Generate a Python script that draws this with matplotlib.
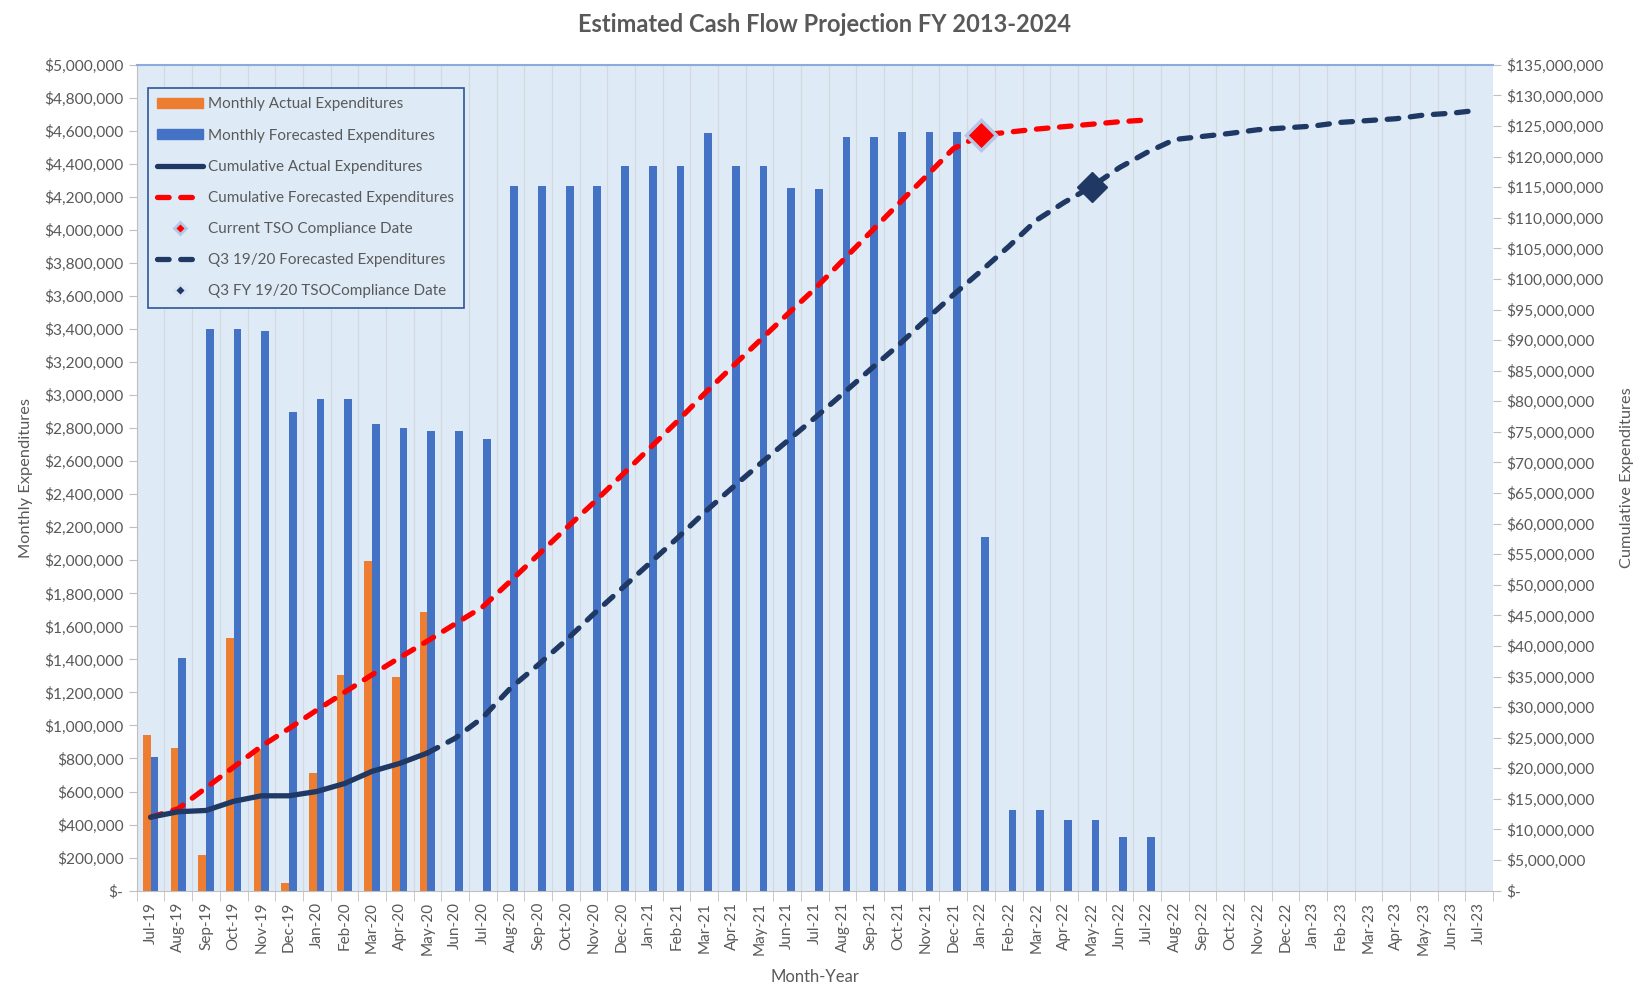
import matplotlib
matplotlib.use("Agg")
import matplotlib.pyplot as plt
from matplotlib.lines import Line2D
from matplotlib.patches import Patch
from matplotlib.ticker import FuncFormatter, MultipleLocator
import numpy as np

plt.rcParams['font.family'] = ['Lato', 'DejaVu Sans']

months = ['Jul-19', 'Aug-19', 'Sep-19', 'Oct-19', 'Nov-19', 'Dec-19', 'Jan-20', 'Feb-20',
          'Mar-20', 'Apr-20', 'May-20', 'Jun-20', 'Jul-20', 'Aug-20', 'Sep-20', 'Oct-20',
          'Nov-20', 'Dec-20', 'Jan-21', 'Feb-21', 'Mar-21', 'Apr-21', 'May-21', 'Jun-21',
          'Jul-21', 'Aug-21', 'Sep-21', 'Oct-21', 'Nov-21', 'Dec-21', 'Jan-22', 'Feb-22',
          'Mar-22', 'Apr-22', 'May-22', 'Jun-22', 'Jul-22', 'Aug-22', 'Sep-22', 'Oct-22',
          'Nov-22', 'Dec-22', 'Jan-23', 'Feb-23', 'Mar-23', 'Apr-23', 'May-23', 'Jun-23',
          'Jul-23']

# monthly values in $ (left axis)
monthly_actual = [940000, 865000, 215000, 1530000, 860000, 45000, 710000, 1305000,
                  1995000, 1295000, 1690000]
monthly_forecast = [810000, 1410000, 3400000, 3400000, 3390000, 2900000, 2975000, 2975000,
                    2825000, 2800000, 2785000, 2785000, 2735000, 4265000, 4265000, 4265000,
                    4265000, 4390000, 4385000, 4385000, 4585000, 4385000, 4385000, 4255000,
                    4250000, 4565000, 4565000, 4595000, 4595000, 4595000, 2140000, 490000,
                    490000, 430000, 430000, 325000, 325000]

# cumulative values in $M (right axis)
cum_actual = [12.0, 12.9, 13.1, 14.6, 15.5, 15.5, 16.2, 17.5, 19.5, 20.8, 22.5]
cum_forecast = [12.0, 13.4, 16.8, 20.2, 23.6, 26.5, 29.5, 32.4, 35.3, 38.1, 40.8, 43.6,
                46.4, 50.6, 54.9, 59.2, 63.4, 67.8, 72.2, 76.6, 81.2, 85.6, 89.9, 94.2,
                98.4, 103.0, 107.6, 112.2, 116.7, 121.3, 123.5, 124.0, 124.5, 124.9, 125.3,
                125.7, 126.0]
q3_start = 10  # May-20
q3_forecast = [22.5, 24.9, 28.3, 33.1, 36.9, 40.9, 45.2, 49.3, 53.4, 57.5, 61.8, 65.8,
               69.7, 73.5, 77.3, 81.2, 85.2, 89.1, 93.3, 97.4, 101.3, 105.3, 109.6, 112.5,
               115.1, 118.2, 120.7, 122.8, 123.3, 123.8, 124.4, 124.7, 125.0, 125.6, 125.9,
               126.2, 126.8, 127.1, 127.6]
tso_current = ('Jan-22', 123.5)
tso_q3 = ('May-22', 115.1)

orange = '#ED7D31'
blue = '#4472C4'
navy = '#1F3864'
red = '#FF0000'
bg = '#DEEBF7'
txt = '#595959'

fig = plt.figure(figsize=(16.48, 9.83), dpi=100)
ax = fig.add_axes([0.083, 0.094, 0.823, 0.84])
ax2 = ax.twinx()

x = np.arange(len(months))
w = 0.28
ax.bar(x[:len(monthly_actual)] - w / 2, monthly_actual, width=w, color=orange, zorder=2)
ax.bar(x[:len(monthly_forecast)] + w / 2, monthly_forecast, width=w, color=blue, zorder=2)

ax.set_facecolor(bg)
ax.set_xlim(-0.5, len(months) - 0.5)
ax.set_ylim(0, 5000000)
ax.yaxis.set_major_locator(MultipleLocator(200000))
ax.yaxis.set_major_formatter(FuncFormatter(lambda v, p: '$-' if v == 0 else '${:,.0f}'.format(v)))
ax.set_xticks(x)
ax.set_xticklabels(months, rotation=90)
ax.set_xticks(np.arange(-0.5, len(months)), minor=True)
ax.tick_params(axis='x', which='major', length=0, labelsize=11, colors=txt, pad=8)
ax.tick_params(axis='x', which='minor', length=7, color='#BFBFBF')
ax.tick_params(axis='y', length=6, color='#BFBFBF', labelsize=11.2, labelcolor=txt)
ax.grid(axis='x', which='minor', color='#D5D8DC', lw=0.9)
ax.set_axisbelow(True)
for s in ['left', 'bottom']:
    ax.spines[s].set_color('#BFBFBF')
ax.spines['top'].set_color('#8EA9DB')
ax.spines['top'].set_linewidth(1.5)
ax.spines['right'].set_visible(False)

ax2.set_ylim(0, 135)
ax2.yaxis.set_major_locator(MultipleLocator(5))
ax2.yaxis.set_major_formatter(FuncFormatter(lambda v, p: '$-' if v == 0 else '${:,.0f}'.format(v * 1e6)))
ax2.tick_params(axis='y', length=6, color='#BFBFBF', labelsize=11.2, labelcolor=txt)
for s in ax2.spines.values():
    s.set_visible(False)

lw = 3.8
ax2.plot(x[:len(cum_forecast)], cum_forecast, color=red, lw=lw, dashes=(2.2, 2.2),
         dash_capstyle='round', zorder=3)
ax2.plot(x[q3_start:q3_start + len(q3_forecast)], q3_forecast, color=navy, lw=lw,
         dashes=(2.2, 2.2), dash_capstyle='round', zorder=3)
ax2.plot(x[:len(cum_actual)], cum_actual, color=navy, lw=lw, solid_capstyle='round', zorder=4)
ax2.plot(months.index(tso_current[0]), tso_current[1], marker='D', ms=15, color=red,
         mec='#B4C7E7', mew=2.5, zorder=5)
ax2.plot(months.index(tso_q3[0]), tso_q3[1], marker='D', ms=15, color=navy,
         mec=navy, zorder=5)

ax.set_ylabel('Monthly Expenditures', fontsize=11.8, color=txt, labelpad=8)
ax2.set_ylabel('Cumulative Expenditures', fontsize=11.8, color=txt, labelpad=12)
ax.set_xlabel('Month-Year', fontsize=12, color=txt, labelpad=10)
fig.suptitle('Estimated Cash Flow Projection FY 2013-2024', fontsize=17, fontweight='bold',
             color=txt, y=0.987)

handles = [
    Patch(color=orange),
    Patch(color=blue),
    Line2D([], [], color=navy, lw=lw, solid_capstyle='round'),
    Line2D([], [], color=red, lw=lw, dashes=(2.2, 2.2), dash_capstyle='round'),
    Line2D([], [], ls='none', marker='D', ms=6, color=red, mec='#B4C7E7', mew=2),
    Line2D([], [], color=navy, lw=lw, dashes=(2.2, 2.2), dash_capstyle='round'),
    Line2D([], [], ls='none', marker='D', ms=6, color=navy, mec='#DAE3F3', mew=2),
]
labels = ['Monthly Actual Expenditures', 'Monthly Forecasted Expenditures',
          'Cumulative Actual Expenditures', 'Cumulative Forecasted Expenditures',
          'Current TSO Compliance Date', 'Q3 19/20 Forecasted Expenditures',
          'Q3 FY 19/20 TSOCompliance Date']
leg = ax2.legend(handles, labels, loc='upper left', bbox_to_anchor=(0.008, 0.972),
                 borderaxespad=0, fontsize=11, labelcolor=txt, handlelength=3.0,
                 handletextpad=0.35, handleheight=0.6, labelspacing=1.12, fancybox=False,
                 framealpha=1, facecolor=bg, edgecolor='#2F5597', borderpad=0.62)
leg.get_frame().set_linewidth(1.2)

fig.savefig('out.png', dpi=100)
